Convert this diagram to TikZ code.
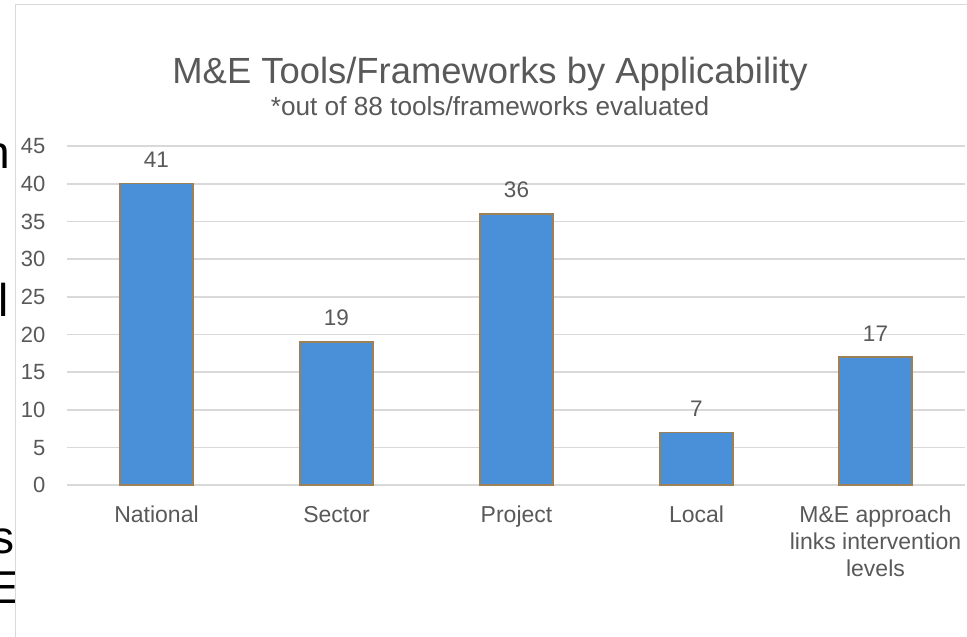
\documentclass[tikz,border=0pt]{standalone}
\usepackage{fontspec}
\setmainfont{Liberation Sans}
\usetikzlibrary{positioning}

\definecolor{barblue}{RGB}{74,144,217}
\definecolor{barrim}{RGB}{158,128,86}
\definecolor{gridgrey}{RGB}{217,217,217}
\definecolor{textgrey}{RGB}{89,89,89}

\tikzset{
    gridline/.style={draw=gridgrey, line width=1.6pt},
    barbox/.style={fill=barblue, draw=barrim, line width=1.5pt},
    ticklabel/.style={anchor=base east, inner sep=0pt, text=textgrey, font=\fontsize{22}{26}\selectfont},
    valuelabel/.style={anchor=base, inner sep=0pt, text=textgrey, font=\fontsize{22.5}{26}\selectfont},
    catlabel/.style={anchor=base, inner sep=0pt, align=center, text=textgrey, font=\fontsize{23}{27}\selectfont},
    behindtext/.style={anchor=base east, inner sep=0pt, font=\fontsize{46}{50}\selectfont}
}

\begin{document}
\begin{tikzpicture}[x=1pt,y=-1pt]
                \useasboundingbox (0,0) rectangle (967,637);

                % slide text behind the chart
                \node[behindtext] (frag n) at (10,168) {n};
                \node[behindtext] (frag l) at (9,316) {l};
                \node[behindtext] (frag s) at (14.5,553) {s};
                \node[behindtext] (frag E) at (19,603) {E};

                % chart area
                \draw[gridgrey, line width=1.5pt, fill=white] (15.5,4.5) rectangle (975,645);

                \node[anchor=base, inner sep=0pt, text=textgrey, font=\fontsize{36.4}{40}\selectfont] (title) at (490,83) {M\&E Tools/Frameworks by Applicability};
                \node[anchor=base, inner sep=0pt, text=textgrey, font=\fontsize{26.2}{30}\selectfont] (subtitle) at (490,115) {*out of 88 tools/frameworks evaluated};

                % grid lines and axis
                \draw[gridline] (67,146.0) -- (965,146.0);
                \draw[gridline] (67,183.7) -- (965,183.7);
                \draw[gridline] (67,221.3) -- (965,221.3);
                \draw[gridline] (67,259.0) -- (965,259.0);
                \draw[gridline] (67,296.7) -- (965,296.7);
                \draw[gridline] (67,334.3) -- (965,334.3);
                \draw[gridline] (67,372.0) -- (965,372.0);
                \draw[gridline] (67,409.7) -- (965,409.7);
                \draw[gridline] (67,447.3) -- (965,447.3);
                \draw[gridline] (67,485.0) -- (965,485.0);

                \node[ticklabel] (t45) at (45.5,153.9) {45};
                \node[ticklabel] (t40) at (45.5,191.6) {40};
                \node[ticklabel] (t35) at (45.5,229.2) {35};
                \node[ticklabel] (t30) at (45.5,266.9) {30};
                \node[ticklabel] (t25) at (45.5,304.6) {25};
                \node[ticklabel] (t20) at (45.5,342.2) {20};
                \node[ticklabel] (t15) at (45.5,379.9) {15};
                \node[ticklabel] (t10) at (45.5,417.6) {10};
                \node[ticklabel] (t5) at (45.5,455.2) {5};
                \node[ticklabel] (t0) at (45.5,492.9) {0};

                % bars
                \draw[barbox] (120,485) rectangle (193,183.7);
                \draw[barbox] (300,485) rectangle (373,341.9);
                \draw[barbox] (480,485) rectangle (553,213.8);
                \draw[barbox] (660,485) rectangle (733,432.3);
                \draw[barbox] (839,485) rectangle (912,357.0);

                \node[valuelabel] (v national) at (156.5,167.5) {41};
                \node[valuelabel] (v sector) at (336.5,325.5) {19};
                \node[valuelabel] (v project) at (516.5,197.5) {36};
                \node[valuelabel] (v local) at (696.5,416.3) {7};
                \node[valuelabel] (v links) at (875.5,341.0) {17};

                % categories
                \node[catlabel] (c national) at (156.5,522) {National};
                \node[catlabel] (c sector) at (336.5,522) {Sector};
                \node[catlabel] (c project) at (516.5,522) {Project};
                \node[catlabel] (c local) at (696.5,522) {Local};
                \node[catlabel, anchor=north] (c links) at (875.5,505.5) {M\&E approach\\links intervention\\levels};
\end{tikzpicture}
\end{document}
